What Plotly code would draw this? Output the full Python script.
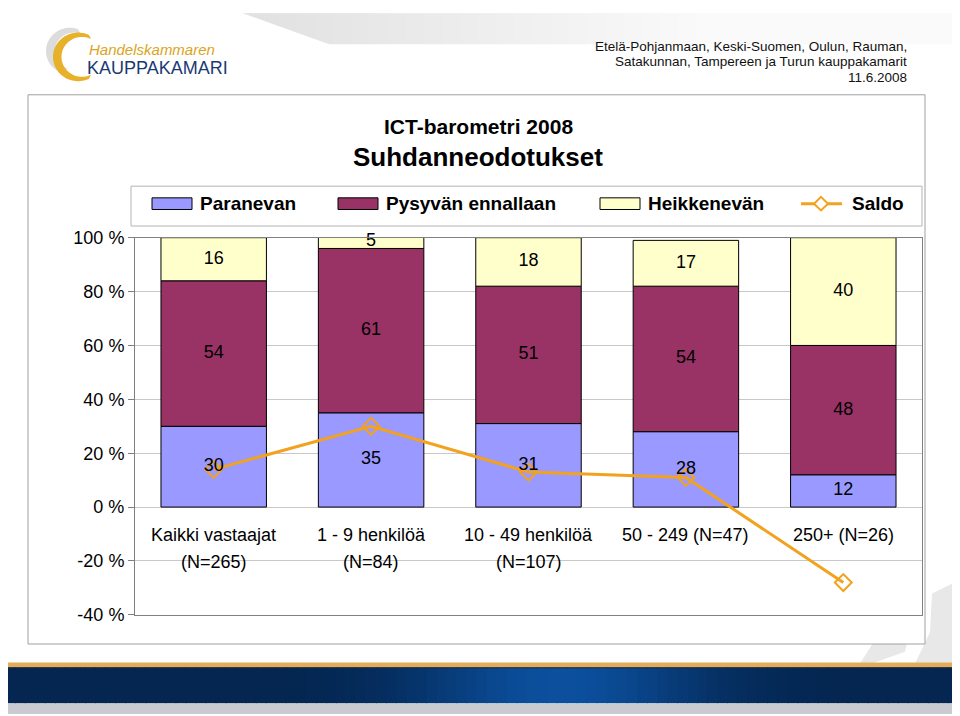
import plotly.graph_objects as go
import numpy as np

# ---------------- data ----------------
categories = ["Kaikki vastaajat<br>(N=265)", "1 - 9 henkilöä<br>(N=84)",
              "10 - 49 henkilöä<br>(N=107)", "50 - 249 (N=47)", "250+ (N=26)"]
paranevan = [30, 35, 31, 28, 12]
pysyvan = [54, 61, 51, 54, 48]
heikkenevan = [16, 5, 18, 17, 40]
saldo = [14, 30, 13, 11, -28]
series_names = ["Paranevan", "Pysyvän ennallaan", "Heikkenevän", "Saldo"]
y_ticks = [-40, -20, 0, 20, 40, 60, 80, 100]
y_tick_labels = [f"{v} %" for v in y_ticks]
title_lines = ["ICT-barometri 2008", "Suhdanneodotukset"]
header_lines = ["Etelä-Pohjanmaan, Keski-Suomen, Oulun, Rauman,",
                "Satakunnan, Tampereen ja Turun kauppakamarit", "11.6.2008"]
logo_lines = ["Handelskammaren", "KAUPPAKAMARI"]

# ---------------- styling ----------------
W, H = 960, 716
OFF = 8  # page body margin
FONT = "Liberation Sans, Arial, sans-serif"
C_PAR, C_PYS, C_HEI, C_SAL = "#9999FF", "#993366", "#FFFFCC", "#F2A21E"


def X(px):
    return (px - OFF) / W


def Y(py):
    return 1 - (py - OFF) / H


xs = list(range(len(categories)))
stack = [(paranevan, series_names[0], C_PAR),
         (pysyvan, series_names[1], C_PYS),
         (heikkenevan, series_names[2], C_HEI)]

fig = go.Figure()
for vals, name, col in stack:
    fig.add_trace(go.Bar(
        x=xs, y=vals, name=name, width=0.67,
        marker=dict(color=col, line=dict(color="black", width=1)),
        hoverinfo="skip"))

fig.add_trace(go.Scatter(
    x=xs, y=saldo, name=series_names[3], mode="lines+markers",
    line=dict(color=C_SAL, width=3),
    marker=dict(symbol="diamond-open", size=13, color=C_SAL,
                line=dict(color=C_SAL, width=2)),
    hoverinfo="skip"))

# data labels, centred in each stacked segment
base = np.zeros(len(xs))
for vals, name, col in stack:
    v = np.array(vals, dtype=float)
    fig.add_trace(go.Scatter(
        x=xs, y=base + v / 2, mode="text", text=[str(t) for t in vals],
        textposition="middle center", cliponaxis=False,
        textfont=dict(size=18, color="black", family=FONT),
        hoverinfo="skip", showlegend=False))
    base = base + v

shapes = []
annotations = []

# --- top gray wedge (gradient strips) ---
n = 40
x0s = np.linspace(243, 968, n + 1)
for i in range(n):
    t = min(1.0, (x0s[i] - 243) / 450)
    g = int(226 + (250 - 226) * t)
    shapes.append(dict(type="rect", xref="paper", yref="paper",
                       x0=X(x0s[i]), x1=X(x0s[i + 1] + 1), y0=Y(35), y1=Y(3),
                       fillcolor=f"rgb({g},{g},{g})", line=dict(width=0), layer="below"))
shapes.append(dict(type="path", xref="paper", yref="paper",
                   path=f"M {X(240)} {Y(2)} L {X(332)} {Y(36)} L {X(240)} {Y(36)} Z",
                   fillcolor="white", line=dict(width=0), layer="below"))

# --- bottom-right watermark ---
for poly in [[(932, 600), (968, 582), (968, 672), (915, 672), (930, 640)],
             [(880, 640), (912, 628), (905, 660), (872, 672), (860, 672)],
             [(895, 600), (925, 588), (918, 612), (890, 622)]]:
    p = "M " + " L ".join(f"{X(a)} {Y(b)}" for a, b in poly) + " Z"
    shapes.append(dict(type="path", xref="paper", yref="paper", path=p,
                       fillcolor="#E8E8E8", line=dict(width=0), layer="below"))

# --- outer chart frame ---
shapes.append(dict(type="rect", xref="paper", yref="paper",
                   x0=X(28), x1=X(925), y0=Y(652), y1=Y(87),
                   fillcolor="white", line=dict(color="#A0A0A0", width=1), layer="below"))

# --- legend box ---
shapes.append(dict(type="rect", xref="paper", yref="paper",
                   x0=X(131), x1=X(922), y0=Y(222), y1=Y(181),
                   fillcolor="white", line=dict(color="#B4B4B4", width=1), layer="below"))
leg = [(152, series_names[0], C_PAR), (338, series_names[1], C_PYS), (600, series_names[2], C_HEI)]
for lx, name, col in leg:
    shapes.append(dict(type="rect", xref="paper", yref="paper",
                       x0=X(lx), x1=X(lx + 40), y0=Y(205), y1=Y(193),
                       fillcolor=col, line=dict(color="black", width=1)))
    annotations.append(dict(xref="paper", yref="paper", x=X(lx + 46), y=Y(199),
                            text=f"<b>{name}</b>", showarrow=False, xanchor="left",
                            yanchor="middle",
                            font=dict(size=19, family=FONT, color="black")))
shapes.append(dict(type="line", xref="paper", yref="paper",
                   x0=X(801), x1=X(842), y0=Y(199), y1=Y(199),
                   line=dict(color=C_SAL, width=3)))
shapes.append(dict(type="path", xref="paper", yref="paper",
                   path=f"M {X(821)} {Y(192)} L {X(828)} {Y(199)} L {X(821)} {Y(206)} L {X(814)} {Y(199)} Z",
                   fillcolor="white", line=dict(color=C_SAL, width=2)))
annotations.append(dict(xref="paper", yref="paper", x=X(850), y=Y(199),
                        text=f"<b>{series_names[3]}</b>", showarrow=False,
                        xanchor="left", yanchor="middle",
                        font=dict(size=19, family=FONT, color="black")))


# --- logo ---
def crescent(cx, cy, r, cx2, r2, a0, a1, col):
    ang = np.radians(np.linspace(a0, a1, 60))
    outer = [(cx + r * np.cos(a), cy - r * np.sin(a)) for a in ang]
    inner = [(cx2 + r2 * np.cos(a), cy - r2 * np.sin(a)) for a in ang[::-1]]
    pts = outer + inner
    p = "M " + " L ".join(f"{X(a)} {Y(b)}" for a, b in pts) + " Z"
    return dict(type="path", xref="paper", yref="paper", path=p,
                fillcolor=col, line=dict(width=0))


shapes.append(crescent(70, 42, 24, 74, 19, 70, 250, "#DCDCDC"))
shapes.append(crescent(78, 48, 25, 82, 20.5, 64, 296, "#E8B12A"))
annotations.append(dict(xref="paper", yref="paper", x=X(87), y=Y(40.5),
                        text=f"<i>{logo_lines[0]}</i>", showarrow=False,
                        xanchor="left", yanchor="middle",
                        font=dict(size=15, family=FONT, color="#D9A520")))
annotations.append(dict(xref="paper", yref="paper", x=X(85), y=Y(59.5),
                        text=logo_lines[1], showarrow=False,
                        xanchor="left", yanchor="middle",
                        font=dict(size=18, family=FONT, color="#1B3A73")))

# --- header text ---
for txt, yy in zip(header_lines, [37, 53, 69]):
    annotations.append(dict(xref="paper", yref="paper", x=X(909), y=Y(yy),
                            text=txt, showarrow=False, xanchor="right", yanchor="middle",
                            font=dict(size=13.5, family=FONT, color="#111111")))

# --- titles ---
annotations.append(dict(xref="paper", yref="paper", x=X(478), y=Y(120),
                        text=f"<b>{title_lines[0]}</b>", showarrow=False,
                        xanchor="center", yanchor="middle",
                        font=dict(size=21, family=FONT, color="black")))
annotations.append(dict(xref="paper", yref="paper", x=X(478), y=Y(151),
                        text=f"<b>{title_lines[1]}</b>", showarrow=False,
                        xanchor="center", yanchor="middle",
                        font=dict(size=26, family=FONT, color="black")))

# --- category labels ---
for i, cat in enumerate(categories):
    parts = cat.split("<br>")
    for j, part in enumerate(parts):
        annotations.append(dict(xref="x", yref="y", x=i, y=-10.5 - 10 * j,
                                text=part, showarrow=False, xanchor="center",
                                yanchor="middle",
                                font=dict(size=18, family=FONT, color="black")))

# --- bottom band ---
shapes.append(dict(type="rect", xref="paper", yref="paper", x0=X(5), x1=X(968),
                   y0=Y(676), y1=Y(671), fillcolor="#E4AC58", line=dict(width=0)))
nb = 96
bx = np.linspace(5, 968, nb + 1)
for i in range(nb):
    xc = (bx[i] + bx[i + 1]) / 2
    t = np.exp(-((xc - 560) / 140) ** 2)
    r = int(4 + (12 - 4) * t)
    g = int(38 + (80 - 38) * t)
    b = int(80 + (158 - 80) * t)
    shapes.append(dict(type="rect", xref="paper", yref="paper",
                       x0=X(bx[i]), x1=X(bx[i + 1] + 0.8), y0=Y(713), y1=Y(676),
                       fillcolor=f"rgb({r},{g},{b})", line=dict(width=0)))
shapes.append(dict(type="line", xref="paper", yref="paper", x0=X(5), x1=X(968),
                   y0=Y(676.5), y1=Y(676.5), line=dict(color="#1A2A3A", width=1)))
shapes.append(dict(type="rect", xref="paper", yref="paper", x0=X(0), x1=X(968),
                   y0=Y(724), y1=Y(713.5), fillcolor="#C8CCD0", line=dict(width=0)))

fig.update_layout(
    width=W, height=H, margin=dict(l=0, r=0, t=0, b=0),
    paper_bgcolor="white", plot_bgcolor="rgba(0,0,0,0)",
    barmode="relative", bargap=0.33, showlegend=False,
    font=dict(family=FONT, color="black"),
    shapes=shapes, annotations=annotations,
    xaxis=dict(domain=[X(135), X(922)], range=[-0.5, len(categories) - 0.5],
               showticklabels=False, ticks="", showgrid=False, zeroline=False,
               showline=True, linecolor="#808080", linewidth=1, mirror=True,
               fixedrange=True),
    yaxis=dict(domain=[Y(622), Y(234)], range=[-40, 100],
               tickvals=y_ticks, ticktext=y_tick_labels,
               tickfont=dict(size=18, family=FONT, color="black"),
               ticks="outside", ticklen=6, tickcolor="#808080",
               showgrid=True, gridcolor="#C8C8C8", gridwidth=1, zeroline=False,
               showline=True, linecolor="#808080", linewidth=1, mirror=True,
               fixedrange=True),
)

fig.write_html("out.html")
